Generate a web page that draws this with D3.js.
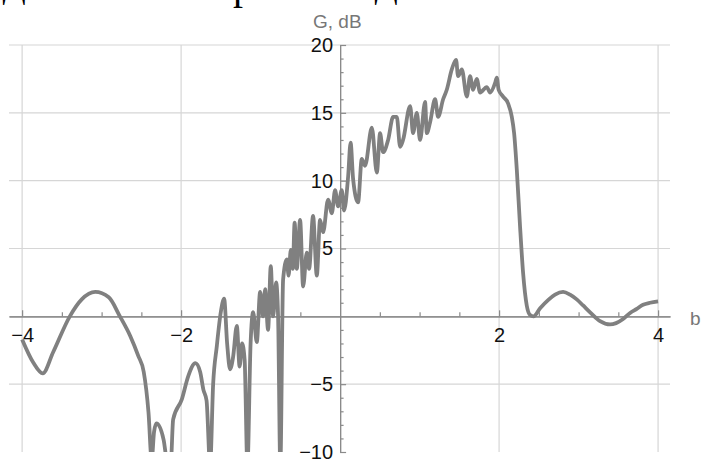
<!DOCTYPE html>
<html lang="en">
<meta charset="UTF-8">
<title>G vs b</title>
<style>
  body { margin: 0; background: #fff; }
  svg { display: block; }
  .tick text { font-family: "Liberation Sans", Arial, sans-serif; font-size: 20px; fill: #111; }
  .lbl { font-family: "Liberation Sans", Arial, sans-serif; font-size: 19px; fill: #777; }
  .frag { font-family: "Liberation Serif", serif; fill: #000; }
</style>
<script src="https://cdnjs.cloudflare.com/ajax/libs/d3/7.8.5/d3.min.js"></script>
<body>
<div id="chart"></div>
<script>
// curve samples: b and G (dB)
var bValues = [-4.00, -3.86, -3.74, -3.61, -3.40, -3.25, -3.08, -2.91, -2.77, -2.64,
  -2.54, -2.47, -2.41, -2.37, -2.34, -2.31, -2.22, -2.17, -2.13, -2.10,
  -1.99, -1.91, -1.82, -1.76, -1.72, -1.68, -1.635, -1.597, -1.551, -1.501,
  -1.459, -1.421, -1.384, -1.346, -1.299, -1.264, -1.233, -1.201, -1.166, -1.126,
  -1.094, -1.048, -1.006, -0.969, -0.943, -0.906, -0.872, -0.843, -0.805, -0.780,
  -0.752, -0.717, -0.670, -0.648, -0.620, -0.595, -0.572, -0.545, -0.503, -0.465,
  -0.419, -0.390, -0.340, -0.293, -0.252, -0.214, -0.151, -0.104, -0.063, -0.025,
  0.021, 0.050, 0.101, 0.132, 0.164, 0.226, 0.273, 0.314, 0.399, 0.462,
  0.503, 0.541, 0.604, 0.667, 0.713, 0.755, 0.792, 0.881, 0.918, 0.965,
  1.006, 1.069, 1.091, 1.132, 1.195, 1.233, 1.296, 1.342, 1.405, 1.459,
  1.484, 1.531, 1.594, 1.635, 1.673, 1.719, 1.761, 1.845, 1.887, 1.950,
  1.971, 1.994, 2.050, 2.113, 2.160, 2.189, 2.223, 2.264, 2.302, 2.348,
  2.390, 2.432, 2.516, 2.616, 2.704, 2.805, 2.893, 2.977, 3.057, 3.145,
  3.270, 3.396, 3.472, 3.560, 3.648, 3.732, 3.811, 3.899, 4.00];
var gValues = [-1.7, -3.4, -4.2, -2.65, 0.0, 1.25, 1.8, 1.4, 0.0, -1.45,
  -2.9, -4.1, -7.1, -10.6, -8.5, -7.9, -9.1, -10.8, -10.8, -7.6,
  -6.1, -4.4, -3.45, -4.1, -5.4, -6.2, -11.0, -5.0, -2.2, 0.3,
  1.3, -2.0, -3.9, -3.0, -0.7, -3.7, -2.0, -3.2, -11.0, -2.0,
  0.3, -1.9, 1.8, 0.0, 2.0, -1.0, 3.7, 0.0, 2.5, 0.0,
  -11.0, 2.7, 4.2, 3.0, 4.9, 3.5, 6.9, 3.5, 7.1, 2.2,
  4.7, 3.5, 7.4, 3.0, 7.1, 6.2, 8.6, 7.6, 9.3, 8.1,
  9.3, 7.8, 10.3, 12.8, 10.1, 8.4, 11.6, 11.1, 13.9, 10.6,
  13.5, 12.1, 13.0, 14.7, 14.7, 12.5, 13.0, 15.5, 13.5, 15.0,
  13.0, 15.8, 13.5, 14.3, 16.0, 14.7, 16.0, 16.7, 18.2, 18.9,
  17.7, 18.2, 16.2, 17.7, 16.7, 17.5, 16.5, 16.9, 16.5, 17.2,
  17.6, 16.7, 16.2, 15.7, 14.7, 13.5, 10.8, 6.6, 3.2, 0.8,
  0.1, 0.0, 0.6, 1.2, 1.6, 1.8, 1.6, 1.25, 0.8, 0.3,
  -0.35, -0.6, -0.5, -0.2, 0.25, 0.55, 0.85, 1.0, 1.1];

var xMajorTicks = [-4, -2, 2, 4];
var xMinorTicks = [-3.5, -3, -2.5, -1.5, -1, -0.5, 0.5, 1, 1.5, 2.5, 3, 3.5];
var yMajorTicks = [-10, -5, 5, 10, 15, 20];
var yMinorTicks = [-9, -8, -7, -6, -4, -3, -2, -1, 1, 2, 3, 4, 6, 7, 8, 9, 11, 12, 13, 14, 16, 17, 18, 19];

var width = 711, height = 461;

var svg = d3.select("#chart")
  .append("svg")
    .attr("width", width)
    .attr("height", height);

var x = d3.scaleLinear().domain([-4.165, 4.15]).range([9, 670]);
var y = d3.scaleLinear().domain([-10, 20]).range([452, 45]);

// cut-off text line from the page above
svg.append("text").attr("class", "frag").attr("x", 14).attr("y", -2).attr("text-anchor", "middle").style("font-size", "34px").text("Д");
svg.append("text").attr("class", "frag").attr("x", 243).attr("y", -1).attr("text-anchor", "middle").style("font-size", "40px").text("р");
svg.append("text").attr("class", "frag").attr("x", 386).attr("y", -2).attr("text-anchor", "middle").style("font-size", "34px").text("Д");

// grid
svg.append("g")
  .selectAll("line")
  .data(xMajorTicks)
  .enter().append("line")
    .attr("x1", function(d) { return x(d); })
    .attr("x2", function(d) { return x(d); })
    .attr("y1", y(20))
    .attr("y2", y(-10))
    .style("stroke", "#d6d6d6")
    .style("stroke-width", 1.2);

svg.append("g")
  .selectAll("line")
  .data(yMajorTicks.filter(function(d) { return d !== -10; }))
  .enter().append("line")
    .attr("x1", x.range()[0])
    .attr("x2", x.range()[1])
    .attr("y1", function(d) { return y(d); })
    .attr("y2", function(d) { return y(d); })
    .style("stroke", "#d6d6d6")
    .style("stroke-width", 1.2);

// X axis (ticks point up)
var gx = svg.append("g").attr("transform", "translate(0," + y(0) + ")");
gx.call(d3.axisBottom(x).tickValues(xMinorTicks).tickSizeInner(-4).tickSizeOuter(0).tickFormat(""));
gx.call(function(g) {
  g.append("g").call(d3.axisBottom(x).tickValues(xMajorTicks).tickSizeInner(-6).tickSizeOuter(0)
    .tickPadding(11).tickFormat(function(d) { return d < 0 ? "\u2212" + Math.abs(d) : d; }));
});

// Y axis (ticks point right, labels on the left)
var gy = svg.append("g").attr("transform", "translate(" + x(0) + ",0)");
gy.call(d3.axisLeft(y).tickValues(yMinorTicks).tickSizeInner(-3.5).tickSizeOuter(0).tickFormat(""));
gy.call(function(g) {
  g.append("g").call(d3.axisLeft(y).tickValues(yMajorTicks).tickSizeInner(-6).tickSizeOuter(0)
    .tickPadding(7).tickFormat(function(d) { return d < 0 ? "\u2212" + Math.abs(d) : d; }));
});

svg.selectAll(".domain, .tick line").style("stroke", "#8a8a8a").style("stroke-width", 1.2);

// axis labels
svg.append("text").attr("class", "lbl").attr("x", 313).attr("y", 28).text("G, dB");
svg.append("text").attr("class", "lbl").attr("x", 690).attr("y", 325).text("b");

// curve, clipped to the plot range
svg.append("clipPath").attr("id", "clip")
  .append("rect")
    .attr("x", x.range()[0])
    .attr("y", y(20) - 5)
    .attr("width", x.range()[1] - x.range()[0])
    .attr("height", y(-10) - y(20) + 5);

var line = d3.line()
  .x(function(d) { return x(bValues[d]); })
  .y(function(d) { return y(gValues[d]); })
  .curve(d3.curveMonotoneX);

svg.append("path")
  .datum(d3.range(bValues.length))
  .attr("clip-path", "url(#clip)")
  .attr("d", line)
  .style("fill", "none")
  .style("stroke", "#808080")
  .style("stroke-width", 3.8)
  .style("stroke-linejoin", "round");
</script>
</body>
</html>
